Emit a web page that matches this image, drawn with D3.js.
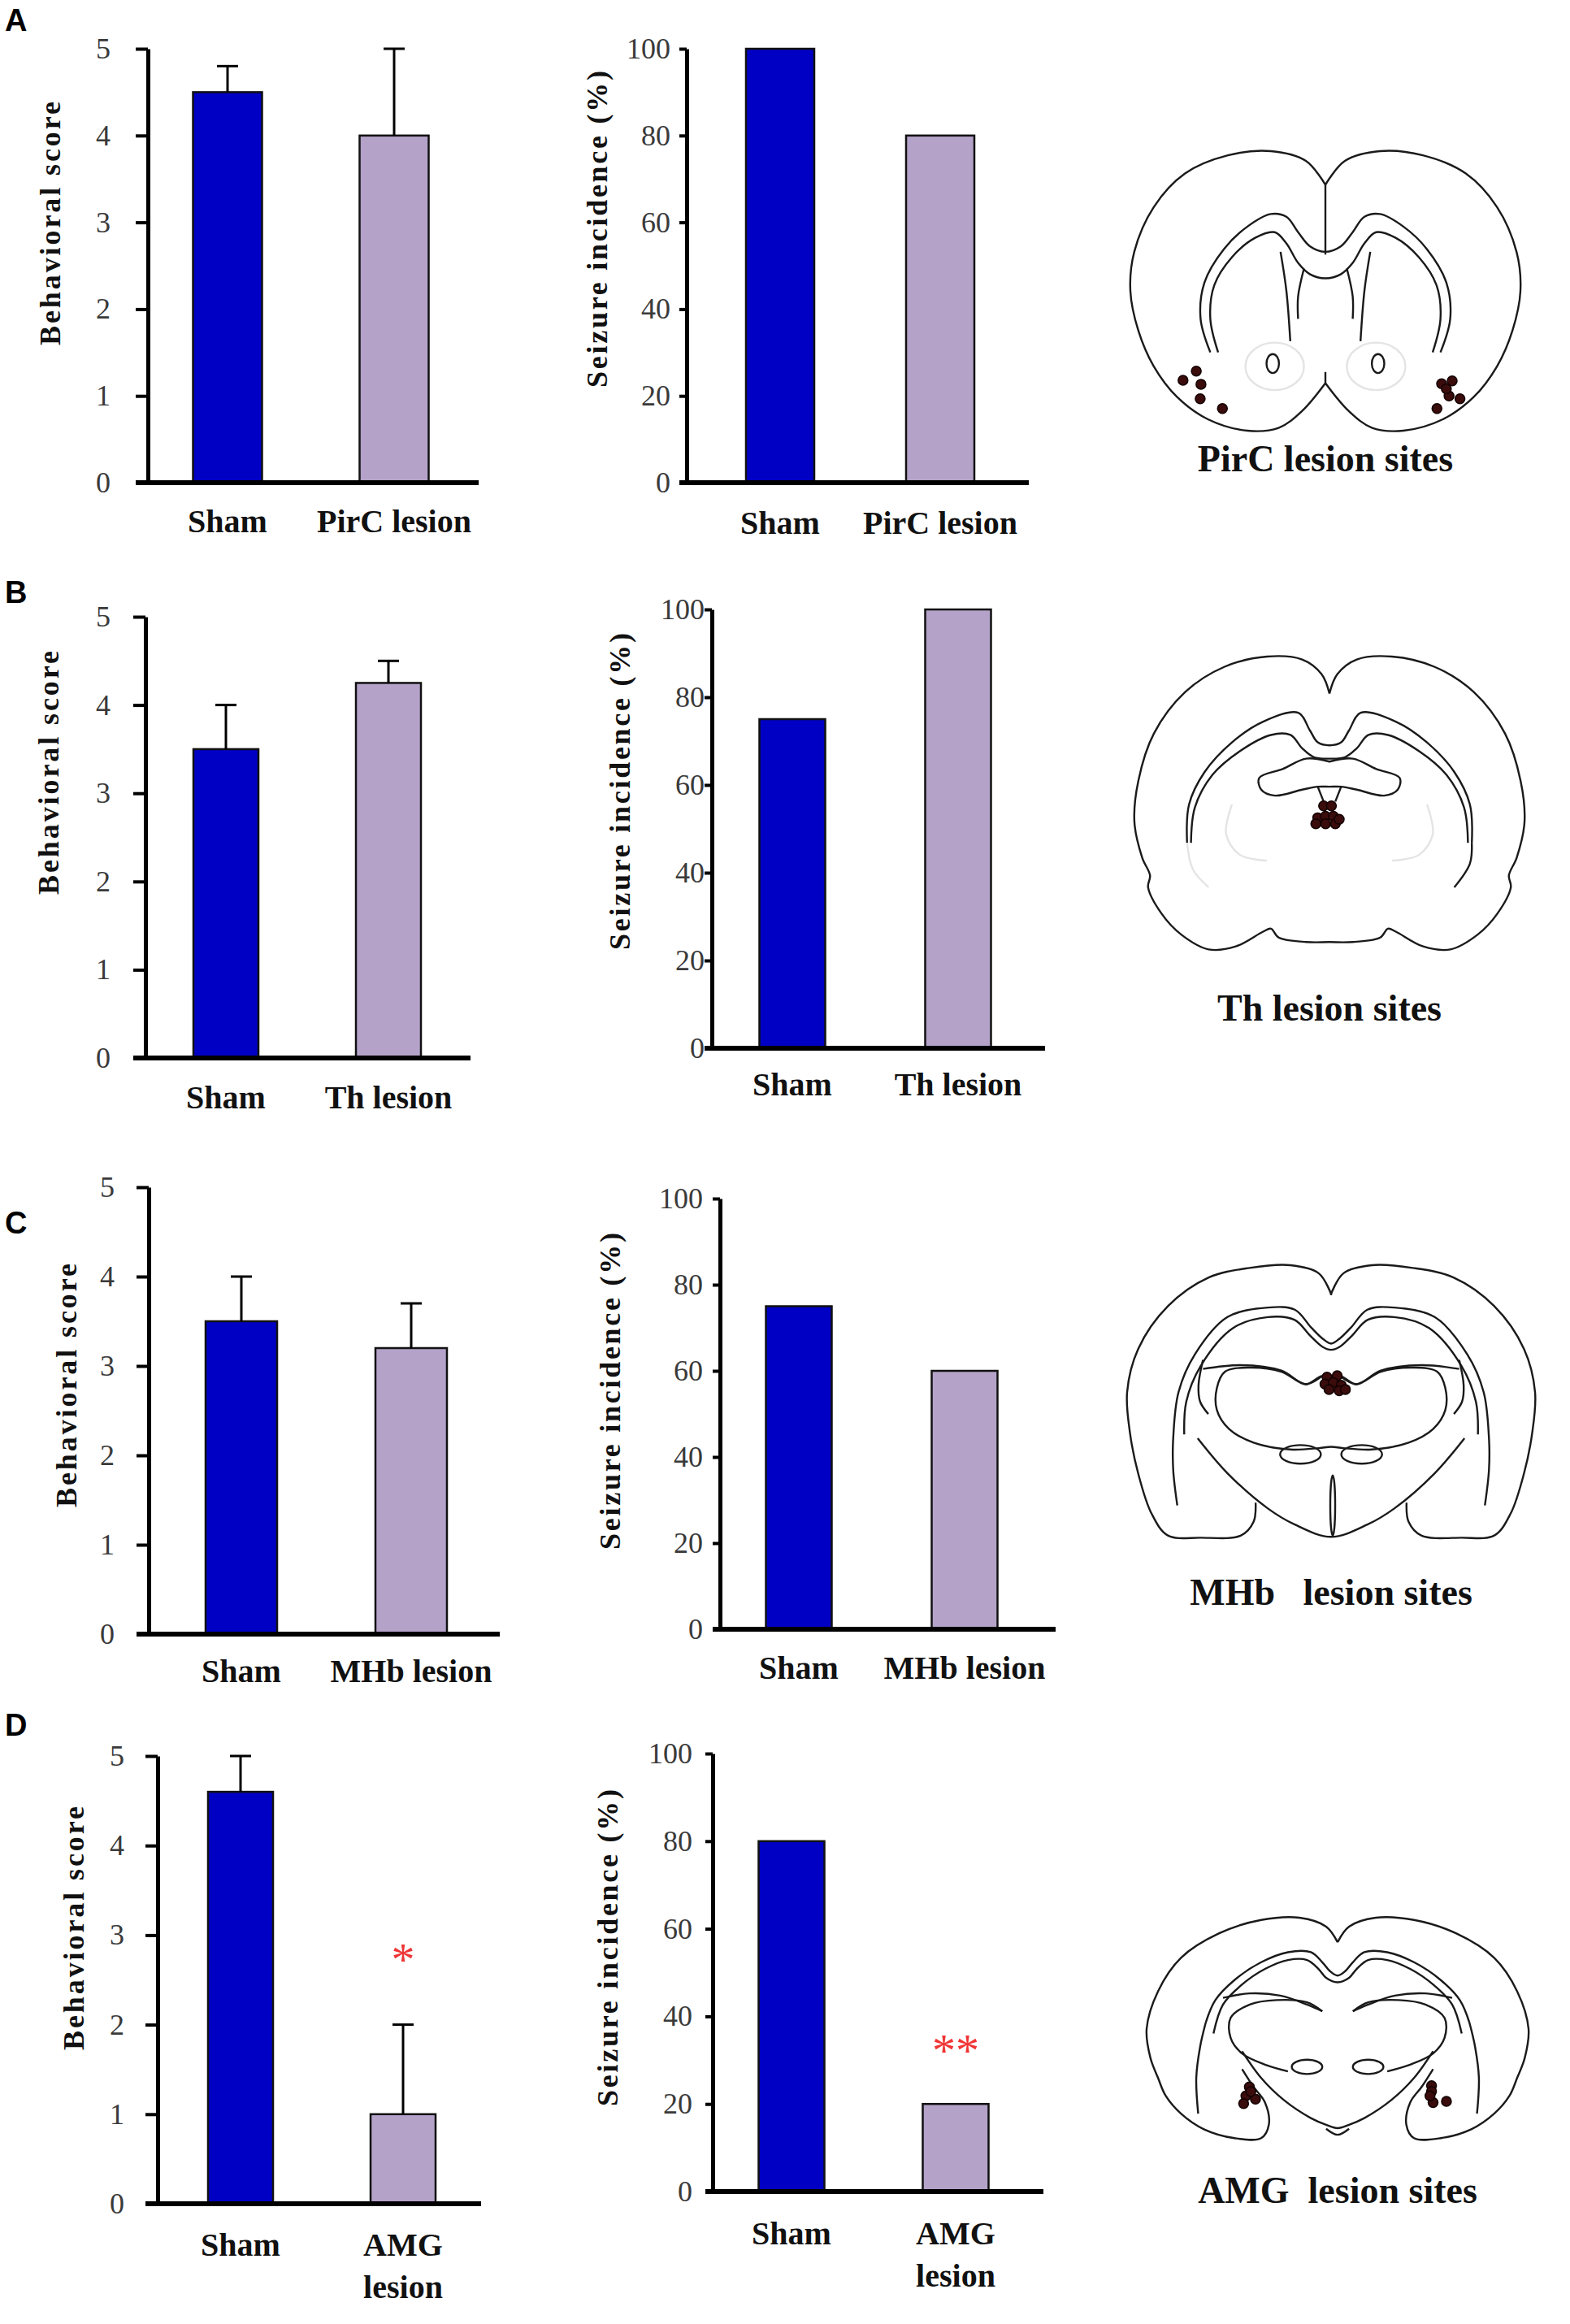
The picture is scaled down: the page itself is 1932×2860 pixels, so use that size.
<!DOCTYPE html>
<html>
<head>
<meta charset="utf-8">
<script src="https://cdn.jsdelivr.net/npm/d3@7"></script>
<style>
  body { margin: 0; background: #fff; }
  svg { display: block; }
</style>
</head>
<body>
<script>
// ---- data ----
var groups = ["Sham", "Lesion"];
var panelLetters = ["A", "B", "C", "D"];
var lesionNames = ["PirC lesion", "Th lesion", "MHb lesion", "AMG\nlesion"];
var siteLabels = ["PirC lesion sites", "Th lesion sites", "MHb   lesion sites", "AMG  lesion sites"];

var scoreMean = [[4.5, 4.0], [3.5, 4.25], [3.5, 3.2], [4.6, 1.0]];
var scoreErr  = [[0.3, 1.0], [0.5, 0.25], [0.5, 0.5], [0.4, 1.0]];
var incidence = [[100, 80], [75, 100], [75, 60], [80, 20]];

var scoreTicks = [0, 1, 2, 3, 4, 5];
var incidenceTicks = [0, 20, 40, 60, 80, 100];

var scoreSig = [["", ""], ["", ""], ["", ""], ["", "*"]];
var incidenceSig = [["", ""], ["", ""], ["", ""], ["", "**"]];

// lesion sites, in 0..1 coordinates of each brain section
var sitesPirC = [[0.135, 0.82], [0.169, 0.787], [0.181, 0.834], [0.179, 0.886], [0.236, 0.921],
                 [0.798, 0.832], [0.825, 0.822], [0.817, 0.876], [0.845, 0.886], [0.786, 0.921], [0.81, 0.85]];
var sitesTh = [[0.485, 0.505], [0.505, 0.505], [0.47, 0.545], [0.49, 0.54], [0.51, 0.54],
               [0.465, 0.565], [0.49, 0.565], [0.515, 0.565], [0.525, 0.55]];
var sitesMHb = [[0.49, 0.41], [0.515, 0.405], [0.485, 0.435], [0.505, 0.43], [0.525, 0.44],
                [0.495, 0.455], [0.52, 0.46], [0.535, 0.455]];
var sitesAMG = [[0.269, 0.76], [0.26, 0.80], [0.285, 0.815], [0.254, 0.835], [0.273, 0.78],
                [0.746, 0.755], [0.746, 0.78], [0.75, 0.83], [0.785, 0.825], [0.742, 0.80]];
var lesionSites = [sitesPirC, sitesTh, sitesMHb, sitesAMG];

// ---- layout (pixels) ----
// gap = distance from the y axis to the right edge of the tick labels
var rows = [
  { letterY: 38,
    left:  { ax: 182, y0: 594, yTop: 60,  xEnd: 589,  c: [280, 485],  bw: 85, labY: 655,  title: [66, 275],   gap: 46, sig: 90 },
    right: { ax: 845, y0: 594, yTop: 60,  xEnd: 1266, c: [960, 1157], bw: 84, labY: 657,  title: [739, 282],  gap: 20, sig: 75 },
    brain: { x: [1391, 1871], y: [186, 530], labY: 580 } },
  { letterY: 742,
    left:  { ax: 179, y0: 1302, yTop: 759, xEnd: 579,  c: [278, 478],  bw: 80, labY: 1364, title: [64, 951],   gap: 43, sig: 90 },
    right: { ax: 876, y0: 1290, yTop: 750, xEnd: 1286, c: [975, 1179], bw: 81, labY: 1348, title: [767, 974],  gap: 9,  sig: 75 },
    brain: { x: [1396, 1876], y: [808, 1172], labY: 1256 } },
  { letterY: 1518,
    left:  { ax: 183, y0: 2011, yTop: 1461, xEnd: 615,  c: [297, 506],  bw: 88, labY: 2070, title: [86, 1705],  gap: 42, sig: 90 },
    right: { ax: 886, y0: 2005, yTop: 1475, xEnd: 1299, c: [983, 1187], bw: 81, labY: 2066, title: [755, 1712], gap: 21, sig: 75 },
    brain: { x: [1387, 1889], y: [1557, 1893], labY: 1975 } },
  { letterY: 2136,
    left:  { ax: 194, y0: 2712, yTop: 2161, xEnd: 592,  c: [296, 496],  bw: 80, labY: 2776, title: [95, 2373],  gap: 41, sig: 90 },
    right: { ax: 877, y0: 2697, yTop: 2158, xEnd: 1284, c: [974, 1176], bw: 81, labY: 2762, title: [752, 2397], gap: 25, sig: 75 },
    brain: { x: [1411, 1881], y: [2360, 2634], labY: 2711 } }
];

var shamColor = "#0000c4";
var lesionColor = "#b4a2c9";
var serif = "'Liberation Serif', 'Times New Roman', serif";

// ---- brain outlines (left half given, mirrored where needed) ----
var brainDrawings = [
  [ // PirC
    { type: "half", pts: [[0.5,0.12],[0.45,0.035],[0.36,0.0],[0.25,0.015],[0.14,0.08],[0.06,0.2],[0.01,0.36],[0.0,0.5],[0.02,0.64],[0.06,0.77],[0.12,0.88],[0.2,0.96],[0.3,1.0],[0.38,0.99],[0.44,0.93],[0.5,0.83]] },
    { type: "single", pts: [[0.5,0.12],[0.5,0.37]] },
    { type: "single", pts: [[0.5,0.83],[0.5,0.79]] },
    { type: "sym", pts: [[0.205,0.72],[0.18,0.6],[0.19,0.47],[0.24,0.35],[0.3,0.27],[0.36,0.225],[0.4,0.235],[0.43,0.29],[0.46,0.34],[0.5,0.36]] },
    { type: "sym", pts: [[0.225,0.72],[0.205,0.6],[0.215,0.48],[0.26,0.38],[0.32,0.31],[0.37,0.29],[0.4,0.33],[0.43,0.4],[0.46,0.44],[0.5,0.455]] },
    { type: "half", pts: [[0.385,0.36],[0.4,0.5],[0.41,0.68]] },
    { type: "half", pts: [[0.445,0.42],[0.43,0.52],[0.43,0.6]] },
    { type: "ell", e: [0.37, 0.77, 0.075, 0.085], faint: true },
    { type: "ell", e: [0.365, 0.76, 0.016, 0.034] }
  ],
  [ // Th
    { type: "half", pts: [[0.5,0.125],[0.48,0.06],[0.43,0.01],[0.34,0.0],[0.23,0.035],[0.13,0.12],[0.05,0.26],[0.01,0.42],[0.0,0.56],[0.02,0.68],[0.04,0.74],[0.035,0.78],[0.07,0.87],[0.12,0.94],[0.19,0.99],[0.26,0.98],[0.33,0.93],[0.35,0.92],[0.37,0.95],[0.44,0.965],[0.5,0.965]] },
    { type: "sym", pts: [[0.135,0.63],[0.14,0.5],[0.18,0.39],[0.25,0.29],[0.33,0.22],[0.42,0.19],[0.45,0.25],[0.47,0.29],[0.5,0.3]] },
    { type: "sym", pts: [[0.145,0.63],[0.155,0.51],[0.2,0.4],[0.27,0.32],[0.35,0.265],[0.4,0.265],[0.43,0.31],[0.46,0.34],[0.5,0.345]] },
    { type: "closedSym", pts: [[0.5,0.355],[0.44,0.345],[0.38,0.38],[0.32,0.41],[0.325,0.45],[0.36,0.47],[0.43,0.45],[0.47,0.44],[0.5,0.44]] },
    { type: "half", pts: [[0.47,0.44],[0.485,0.49]] },
    { type: "single", pts: [[0.865,0.63],[0.86,0.7],[0.82,0.78]] },
    { type: "single", pts: [[0.135,0.63],[0.15,0.72],[0.19,0.78]], faint: true },
    { type: "half", pts: [[0.25,0.5],[0.235,0.6],[0.27,0.67],[0.34,0.69]], faint: true }
  ],
  [ // MHb
    { type: "half", pts: [[0.501,0.109],[0.47,0.03],[0.4,0.0],[0.3,0.01],[0.2,0.045],[0.1,0.15],[0.027,0.307],[0.0,0.465],[0.007,0.614],[0.027,0.762],[0.06,0.91],[0.1,0.99],[0.18,0.998],[0.279,0.99],[0.31,0.94],[0.315,0.87]] },
    { type: "sym", pts: [[0.123,0.88],[0.113,0.75],[0.113,0.634],[0.126,0.465],[0.166,0.327],[0.246,0.19],[0.345,0.155],[0.411,0.163],[0.451,0.228],[0.48,0.27],[0.5,0.287]] },
    { type: "sym", pts: [[0.14,0.62],[0.145,0.5],[0.18,0.37],[0.26,0.23],[0.345,0.19],[0.41,0.2],[0.45,0.26],[0.48,0.3],[0.5,0.31]] },
    { type: "half", pts: [[0.186,0.347],[0.175,0.44],[0.179,0.5],[0.199,0.545]] },
    { type: "half", pts: [[0.186,0.38],[0.279,0.366],[0.378,0.386],[0.438,0.436],[0.478,0.406]] },
    { type: "closedSym", pts: [[0.5,0.42],[0.478,0.406],[0.438,0.436],[0.378,0.39],[0.3,0.375],[0.24,0.39],[0.22,0.45],[0.22,0.53],[0.25,0.6],[0.31,0.65],[0.4,0.675],[0.47,0.67],[0.5,0.665]] },
    { type: "sym", pts: [[0.173,0.634],[0.246,0.762],[0.345,0.891],[0.411,0.95],[0.5,0.995]] },
    { type: "ell", e: [0.425, 0.693, 0.05, 0.034] },
    { type: "mid", e: [0.504, 0.88, 0.006, 0.11] }
  ],
  [ // AMG
    { type: "half", pts: [[0.5,0.11],[0.47,0.04],[0.4,0.0],[0.3,0.01],[0.19,0.07],[0.09,0.18],[0.03,0.33],[0.0,0.5],[0.01,0.63],[0.03,0.72],[0.05,0.8],[0.09,0.88],[0.15,0.95],[0.23,0.99],[0.3,0.99],[0.32,0.93],[0.31,0.83],[0.28,0.76],[0.25,0.68]] },
    { type: "half", pts: [[0.135,0.88],[0.13,0.72],[0.14,0.58],[0.155,0.47]] },
    { type: "sym", pts: [[0.155,0.47],[0.18,0.37],[0.23,0.28],[0.3,0.2],[0.37,0.155],[0.43,0.155],[0.46,0.2],[0.48,0.24],[0.5,0.26]] },
    { type: "sym", pts: [[0.175,0.52],[0.2,0.39],[0.25,0.3],[0.31,0.23],[0.37,0.19],[0.42,0.19],[0.45,0.23],[0.47,0.27],[0.5,0.29]] },
    { type: "half", pts: [[0.2,0.36],[0.27,0.34],[0.35,0.35],[0.42,0.39],[0.46,0.42]] },
    { type: "half", pts: [[0.46,0.42],[0.42,0.38],[0.34,0.37],[0.27,0.39],[0.22,0.45],[0.22,0.54],[0.25,0.61],[0.31,0.66],[0.37,0.69]] },
    { type: "sym", pts: [[0.25,0.6],[0.3,0.72],[0.36,0.82],[0.43,0.9],[0.47,0.93],[0.5,0.945]] },
    { type: "single", pts: [[0.47,0.948],[0.5,0.975],[0.53,0.948]] },
    { type: "ell", e: [0.42, 0.67, 0.04, 0.032] }
  ]
];

// ---- drawing ----
var svg = d3.select("body").append("svg")
    .attr("width", 1932)
    .attr("height", 2860);

function drawChart(g, cfg, means, errs, sig, maxVal, ticks, xName, yTitle, side) {
  var y = d3.scaleLinear().domain([0, maxVal]).range([cfg.y0, cfg.yTop]);
  var x = d3.scalePoint().domain(groups).range(cfg.c);
  var names = ["Sham", xName];
  var tick = side == "left" ? 15 : 9;

  g.selectAll("rect.bar").data(means).enter().append("rect")
      .attr("x", function(d, i) { return x(groups[i]) - cfg.bw / 2; })
      .attr("y", function(d) { return y(d); })
      .attr("width", cfg.bw)
      .attr("height", function(d) { return cfg.y0 - y(d); })
      .attr("fill", function(d, i) { return i == 0 ? shamColor : lesionColor; })
      .attr("stroke", "#111")
      .attr("stroke-width", 2.5);

  // one-sided error bars
  if (errs) {
    means.forEach(function(m, i) {
      var cx = x(groups[i]);
      g.append("line").attr("x1", cx).attr("x2", cx)
          .attr("y1", y(m)).attr("y2", y(m + errs[i]))
          .attr("stroke", "#000").attr("stroke-width", 3);
      g.append("line").attr("x1", cx - 13).attr("x2", cx + 13)
          .attr("y1", y(m + errs[i])).attr("y2", y(m + errs[i]))
          .attr("stroke", "#000").attr("stroke-width", 3);
    });
  }

  // significance stars
  sig.forEach(function(s, i) {
    if (!s) return;
    var top = means[i] + (errs ? errs[i] : 0);
    g.append("text")
        .attr("x", x(groups[i]))
        .attr("y", y(top) - cfg.sig + 29)
        .attr("text-anchor", "middle")
        .attr("font-family", serif)
        .attr("font-size", 58)
        .attr("fill", "#f03535")
        .text(s);
  });

  var axis = g.append("g")
      .attr("transform", "translate(" + cfg.ax + ",0)")
      .call(d3.axisLeft(y).tickValues(ticks).tickFormat(d3.format("d"))
            .tickSize(tick).tickSizeOuter(0).tickPadding(cfg.gap - tick));
  axis.select(".domain").attr("stroke-width", 5);
  axis.selectAll(".tick line").attr("stroke-width", 4);
  axis.selectAll(".tick text")
      .attr("font-family", serif)
      .attr("font-size", 36)
      .attr("fill", "#3a3a3a");

  g.append("line")
      .attr("x1", cfg.ax - tick).attr("x2", cfg.xEnd)
      .attr("y1", cfg.y0).attr("y2", cfg.y0)
      .attr("stroke", "#000").attr("stroke-width", 6);

  names.forEach(function(n, i) {
    var t = g.append("text")
        .attr("x", x(groups[i]))
        .attr("y", cfg.labY)
        .attr("text-anchor", "middle")
        .attr("font-family", serif)
        .attr("font-weight", "bold")
        .attr("font-size", 40)
        .attr("fill", "#111");
    n.split("\n").forEach(function(part, k) {
      t.append("tspan").attr("x", x(groups[i])).attr("dy", k == 0 ? 0 : 52).text(part);
    });
  });

  g.append("text")
      .attr("transform", "translate(" + cfg.title[0] + "," + cfg.title[1] + ") rotate(-90)")
      .attr("text-anchor", "middle")
      .attr("dominant-baseline", "middle")
      .attr("font-family", serif)
      .attr("font-weight", "bold")
      .attr("font-size", 36)
      .attr("textLength", side == "left" ? 300 : 390)
      .attr("lengthAdjust", "spacing")
      .attr("fill", "#111")
      .text(yTitle);
}

var curve = d3.line().curve(d3.curveCatmullRom.alpha(0.5));
var curveClosed = d3.line().curve(d3.curveCatmullRomClosed.alpha(0.5));

function drawBrain(g, shape, box, sites, label) {
  var bx = d3.scaleLinear().domain([0, 1]).range(box.x);
  var by = d3.scaleLinear().domain([0, 1]).range(box.y);
  var P = function(pts) { return pts.map(function(p) { return [bx(p[0]), by(p[1])]; }); };
  var mir = function(pts) { return pts.map(function(p) { return [1 - p[0], p[1]]; }); };

  shape.forEach(function(s) {
    var col = s.faint ? "#e4e4e4" : "#1a1a1a";
    if (s.type == "ell" || s.type == "mid") {
      var es = s.type == "ell" ? [s.e, [1 - s.e[0], s.e[1], s.e[2], s.e[3]]] : [s.e];
      es.forEach(function(e) {
        g.append("ellipse")
            .attr("cx", bx(e[0])).attr("cy", by(e[1]))
            .attr("rx", bx(e[2]) - bx(0)).attr("ry", by(e[3]) - by(0))
            .attr("fill", "none").attr("stroke", col).attr("stroke-width", 2.4);
      });
      return;
    }
    var paths, gen = curve;
    if (s.type == "half") paths = [s.pts, mir(s.pts)];
    else if (s.type == "sym" || s.type == "closedSym") {
      paths = [s.pts.concat(mir(s.pts).reverse().slice(1))];
      if (s.type == "closedSym") gen = curveClosed;
    } else paths = [s.pts];
    paths.forEach(function(p) {
      g.append("path").attr("d", gen(P(p)))
          .attr("fill", "none").attr("stroke", col).attr("stroke-width", 2.4);
    });
  });

  g.selectAll("circle.site").data(sites).enter().append("circle")
      .attr("cx", function(d) { return bx(d[0]); })
      .attr("cy", function(d) { return by(d[1]); })
      .attr("r", 6)
      .attr("fill", "#3b0c0c")
      .attr("stroke", "#120000")
      .attr("stroke-width", 1.5);

  g.append("text")
      .attr("x", (box.x[0] + box.x[1]) / 2)
      .attr("y", box.labY)
      .attr("text-anchor", "middle")
      .attr("font-family", serif)
      .attr("font-weight", "bold")
      .attr("font-size", 46)
      .attr("fill", "#111")
      .style("white-space", "pre")
      .text(label);
}

rows.forEach(function(r, i) {
  var row = svg.append("g");
  row.append("text")
      .attr("x", 6).attr("y", r.letterY)
      .attr("font-family", "'Liberation Sans', Arial, sans-serif")
      .attr("font-weight", "bold")
      .attr("font-size", 38)
      .text(panelLetters[i]);

  drawChart(row.append("g"), r.left, scoreMean[i], scoreErr[i], scoreSig[i], 5, scoreTicks,
            lesionNames[i], "Behavioral score", "left");
  drawChart(row.append("g"), r.right, incidence[i], null, incidenceSig[i], 100, incidenceTicks,
            lesionNames[i], "Seizure incidence (%)", "right");
  drawBrain(row.append("g"), brainDrawings[i], r.brain, lesionSites[i], siteLabels[i]);
});
</script>
</body>
</html>
